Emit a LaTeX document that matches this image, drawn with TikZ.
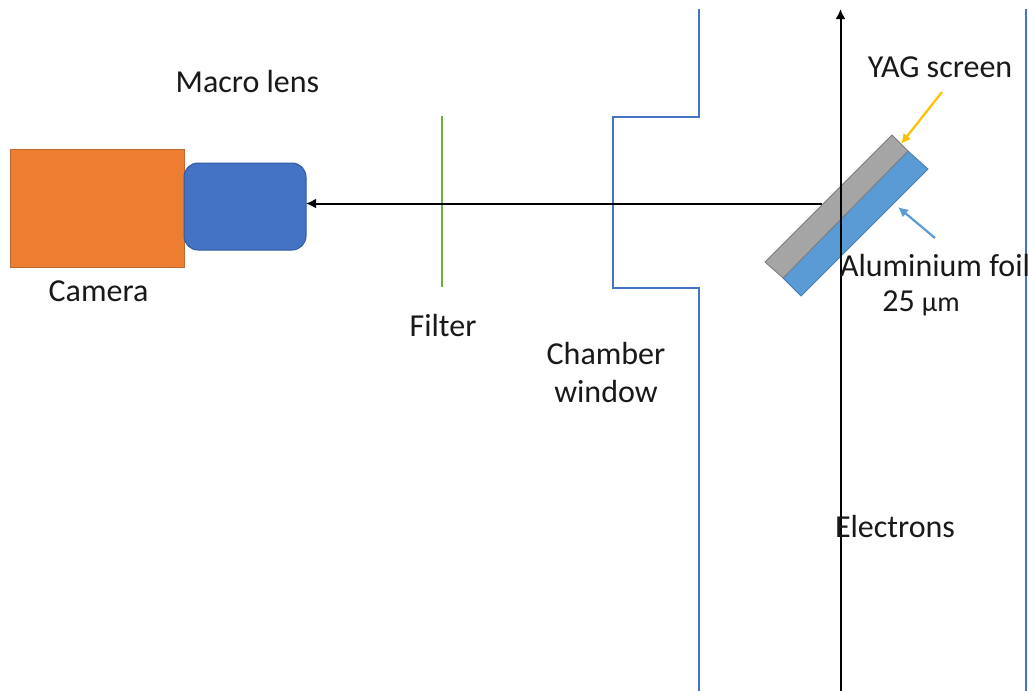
\documentclass[tikz,border=0pt]{standalone}
\usepackage{fontspec}
\setmainfont{Carlito}
\definecolor{wallblue}{RGB}{68,114,196}
\definecolor{foilblue}{RGB}{91,155,213}
\definecolor{camorange}{RGB}{237,125,49}
\definecolor{camedge}{RGB}{190,105,50}
\definecolor{lensedge}{RGB}{50,90,160}
\definecolor{yaggray}{RGB}{165,165,165}
\definecolor{yagedge}{RGB}{125,125,125}
\definecolor{filtergreen}{RGB}{112,173,71}
\definecolor{yagyellow}{RGB}{255,192,0}
\definecolor{txt}{RGB}{25,25,25}
\usetikzlibrary{arrows.meta}
\tikzset{
  x=1pt,y=-1pt,
  lbl/.style={text=txt,font=\fontsize{32}{38}\selectfont,inner sep=0pt,align=center},
  wall/.style={draw=wallblue,line width=2.6pt},
  beam/.style={draw=black,line width=2pt,-{Latex[length=10pt,width=10pt]}},
  ptr/.style={line width=2.2pt,-{Latex[length=10pt,width=10pt]}}
}
\begin{document}
\begin{tikzpicture}
\useasboundingbox (0,0) rectangle (1029,691);
\fill[white] (0,0) rectangle (1029,691);
% chamber
\draw[wall] (699,9) -- (699,117) -- (613,117) -- (613,288) -- (699,288) -- (699,691);
\draw[wall] (1026,9) -- (1026,691);
% camera and lens
\node[draw=camedge,fill=camorange,line width=1pt,minimum width=174pt,minimum height=118pt,inner sep=0pt] (camera) at (97,208) {};
\node[draw=lensedge,fill=wallblue,line width=1pt,rounded corners=14pt,outer sep=0pt,minimum width=122pt,minimum height=87pt,inner sep=0pt] (lens) at (245,206.5) {};
% filter
\coordinate (ftop) at (442,116);
\coordinate (fbot) at (442,287);
\draw[draw=filtergreen,line width=2.6pt] (ftop) -- (fbot);
% horizontal beam
\coordinate (bstart) at (822,203.5);
\draw[beam] (bstart) -- (lens.east |- bstart);
% screen
\draw[fill=foilblue,draw=foilblue!80!black,line width=0.8pt] (908,151) -- (928,169) -- (801,296) -- (783,278) -- cycle;
\draw[fill=yaggray,draw=yagedge,line width=0.8pt] (892,135) -- (908,151) -- (783,278) -- (765,262) -- cycle;
% electrons axis
\coordinate (ebot) at (840.5,691);
\coordinate (etop) at (840.5,9);
\draw[beam] (ebot) -- (etop);
% pointers
\coordinate (yagfrom) at (942,92);
\coordinate (yagto) at (901,144);
\draw[ptr,draw=yagyellow] (yagfrom) -- (yagto);
\coordinate (alfrom) at (935,238);
\coordinate (alto) at (898,207);
\draw[ptr,draw=foilblue] (alfrom) -- (alto);
% labels
\node[lbl] (tmacro) at (247.5,82) {Macro lens};
\node[lbl] (tcam) at (98.5,291) {Camera};
\node[lbl] (tfilter) at (443,326) {Filter};
\node[lbl] (tchamber) at (606,372) {Chamber\\window};
\node[lbl] (tyag) at (940,67) {YAG screen};
\node[lbl] (tal) at (935,266) {Aluminium foil};
\node[lbl] (tum) at (921,303) {25 {\fontsize{28}{33}\selectfont µm}};
\node[lbl] (tel) at (895,527) {Electrons};
\end{tikzpicture}
\end{document}
